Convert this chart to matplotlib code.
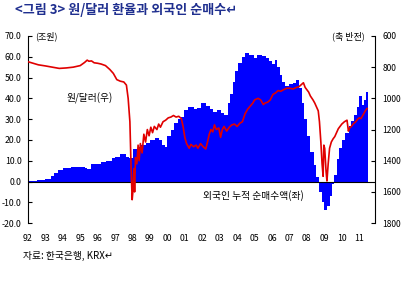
import matplotlib
matplotlib.use("Agg")
import matplotlib.pyplot as plt
import numpy as np

plt.rcParams['font.family'] = ['Noto Sans CJK KR', 'DejaVu Sans']

# cumulative foreign net purchases (trillion won), step values
flow_t = [1992.0, 1992.5, 1993.0, 1993.3, 1993.5, 1993.75, 1994.0, 1994.25, 1994.5, 1994.75,
          1995.0, 1995.25, 1995.4, 1995.6, 1995.9, 1996.2, 1996.5, 1996.8, 1997.0, 1997.3,
          1997.6, 1997.8, 1998.0, 1998.3, 1998.5, 1998.75, 1999.0, 1999.3, 1999.5, 1999.7,
          1999.85, 2000.0, 2000.2, 2000.4, 2000.6, 2000.8, 2000.95, 2001.2, 2001.5, 2001.7,
          2001.95, 2002.2, 2002.45, 2002.6, 2002.85, 2003.1, 2003.25, 2003.45, 2003.6, 2003.75,
          2003.9, 2004.05, 2004.25, 2004.45, 2004.7, 2004.95, 2005.15, 2005.4, 2005.65, 2005.85,
          2006.0, 2006.15, 2006.3, 2006.45, 2006.6, 2006.75, 2006.95, 2007.2, 2007.4, 2007.55,
          2007.7, 2007.85, 2008.0, 2008.2, 2008.4, 2008.55, 2008.7, 2008.85, 2009.0, 2009.15,
          2009.3, 2009.45, 2009.55, 2009.7, 2009.85, 2010.0, 2010.2, 2010.4, 2010.55, 2010.7,
          2010.85, 2011.0, 2011.15, 2011.3, 2011.4, 2011.5]
flow_v = [0.3, 0.8, 1.0, 2.5, 4.0, 5.5, 6.7, 6.5, 7.0, 6.8,
          7.0, 6.5, 6.0, 8.3, 8.5, 9.5, 10.0, 11.5, 12.0, 13.0,
          12.0, 11.5, 15.5, 16.5, 17.5, 18.5, 20.0, 21.0, 20.0, 17.5,
          16.5, 22.0, 25.0, 28.0, 30.0, 31.0, 34.5, 36.0, 35.0, 35.5,
          38.0, 36.5, 35.0, 33.5, 34.5, 33.0, 32.0, 38.0, 42.0, 48.0,
          53.0, 57.0, 60.0, 62.0, 61.0, 59.5, 61.0, 60.5, 59.5, 58.0,
          56.5, 58.5, 55.0, 51.0, 48.0, 46.0, 47.0, 47.5, 49.0, 45.0,
          38.0, 30.0, 22.0, 14.0, 8.0, 2.0, -5.0, -10.0, -13.5, -12.0,
          -7.0, -1.0, 3.0, 11.0, 16.0, 20.0, 23.5, 26.5, 29.0, 32.0,
          36.0, 41.0, 37.0, 39.0, 43.0, 43.0]

# won/dollar exchange rate (right axis, inverted)
fx_t = [1992.0, 1992.3, 1992.6, 1993.0, 1993.4, 1993.8, 1994.2, 1994.6, 1995.0, 1995.25,
        1995.4, 1995.5, 1995.65, 1995.8, 1996.0, 1996.2, 1996.45, 1996.7, 1996.9, 1997.1,
        1997.3, 1997.5, 1997.65, 1997.75, 1997.85, 1997.92, 1997.98, 1998.02, 1998.08, 1998.12,
        1998.17, 1998.25, 1998.32, 1998.38, 1998.45, 1998.55, 1998.65, 1998.75, 1998.85, 1998.95,
        1999.05, 1999.15, 1999.25, 1999.4, 1999.5, 1999.6, 1999.75, 1999.9, 2000.05, 2000.2,
        2000.35, 2000.5, 2000.65, 2000.8, 2000.9, 2001.0, 2001.1, 2001.25, 2001.35, 2001.5,
        2001.65, 2001.75, 2001.9, 2002.05, 2002.2, 2002.3, 2002.4, 2002.5, 2002.6, 2002.7,
        2002.8, 2002.95, 2003.05, 2003.15, 2003.25, 2003.4, 2003.55, 2003.7, 2003.85, 2004.0,
        2004.15, 2004.3, 2004.45, 2004.6, 2004.75, 2004.9, 2005.0, 2005.2, 2005.35, 2005.5,
        2005.6, 2005.75, 2005.9, 2006.05, 2006.2, 2006.35, 2006.5, 2006.65, 2006.85, 2007.0,
        2007.2, 2007.4, 2007.55, 2007.7, 2007.8, 2007.9, 2008.0, 2008.1, 2008.2, 2008.35,
        2008.45, 2008.55, 2008.65, 2008.72, 2008.8, 2008.87, 2008.93, 2008.97, 2009.02, 2009.1,
        2009.15, 2009.22, 2009.3, 2009.4, 2009.5, 2009.6, 2009.7, 2009.8, 2009.9, 2010.0,
        2010.15, 2010.3, 2010.38, 2010.45, 2010.55, 2010.65, 2010.8, 2010.9, 2011.0, 2011.1,
        2011.2, 2011.35, 2011.45]
fx_v = [765, 775, 785, 792, 800, 808, 805, 800, 790, 770,
        755, 762, 760, 772, 775, 780, 790, 815, 840, 880,
        890, 895, 915, 1000, 1150, 1450, 1650, 1600, 1450, 1600,
        1380, 1420, 1300, 1400, 1290, 1350, 1230, 1280, 1200, 1240,
        1185, 1220, 1180, 1200, 1165, 1185, 1150, 1140, 1125, 1120,
        1110, 1120, 1115, 1130, 1180, 1250, 1290, 1320, 1295, 1310,
        1300, 1320, 1290, 1310, 1325, 1280, 1230, 1200, 1215, 1170,
        1200, 1190, 1250, 1200, 1180, 1210, 1185, 1170, 1165, 1180,
        1160, 1150, 1100, 1070, 1050, 1030, 1010, 1000, 1010, 1040,
        1030, 1025, 1010, 975, 965, 950, 955, 945, 935, 935,
        940, 930, 925, 910, 900, 930, 945, 960, 985, 1010,
        1030, 1055, 1080, 1150, 1280, 1420, 1500, 1300, 1320, 1470,
        1530, 1420, 1320, 1280, 1260, 1245, 1220, 1195, 1180, 1165,
        1150, 1140, 1210, 1190, 1180, 1165, 1150, 1135, 1125, 1130,
        1110, 1080, 1065]

year_ticks = list(range(1992, 2012))
year_labels = ["%02d" % (y % 100) for y in year_ticks]
left_ticks = [70, 60, 50, 40, 30, 20, 10, 0, -10, -20]
right_ticks = [600, 800, 1000, 1200, 1400, 1600, 1800]

fig = plt.figure(figsize=(4.04, 2.81), dpi=100)
ax = fig.add_axes([0.069, 0.206, 0.859, 0.666])

ax.fill_between(flow_t, flow_v, 0, step='post', color='#0000ff', lw=0)
ax.axhline(0, color='black', lw=0.8)
ax.set_xlim(1992, 2011.9)
ax.set_ylim(-20, 70)
ax.set_yticks(left_ticks)
ax.set_yticklabels(["%.1f" % v for v in left_ticks])
ax.set_xticks(year_ticks)
ax.set_xticklabels(year_labels)
ax.tick_params(axis='x', length=0, pad=8, labelsize=6.3)
ax.tick_params(axis='y', direction='in', length=3, width=0.8, pad=4.5, labelsize=6.3)
for s in ['top', 'bottom', 'right']:
    ax.spines[s].set_visible(False)
ax.spines['left'].set_linewidth(0.8)

ax2 = ax.twinx()
ax2.plot(fx_t, fx_v, color='#e00000', lw=1.2)
ax2.set_ylim(1800, 600)
ax2.set_yticks(right_ticks)
ax2.tick_params(axis='y', direction='in', length=3, width=0.8, pad=5.5, labelsize=6.1)
for s in ['top', 'bottom', 'left']:
    ax2.spines[s].set_visible(False)
ax2.spines['right'].set_linewidth(0.8)

def px(x, y):
    return x / 404.0, 1 - y / 281.0

fig.text(*px(15, 10), "<그림 3> 원/달러 환율과 외국인 순매수\u21b5", color='#1f2f8f',
         fontsize=9.4, fontweight='bold', va='center', ha='left')
fig.text(*px(35, 36), "(조원)", fontsize=6.5, va='center', ha='left')
fig.text(*px(365, 36), "(축 반전)", fontsize=6.5, va='center', ha='right')
fig.text(*px(67, 98), "원/달러(우)", fontsize=7, va='center', ha='left')
fig.text(*px(253, 196), "외국인 누적 순매수액(좌)", fontsize=7, va='center', ha='center')
fig.text(*px(23, 256), "자료: 한국은행, KRX\u21b5", fontsize=7, va='center', ha='left')

fig.savefig("out.png", dpi=100, facecolor='white')
